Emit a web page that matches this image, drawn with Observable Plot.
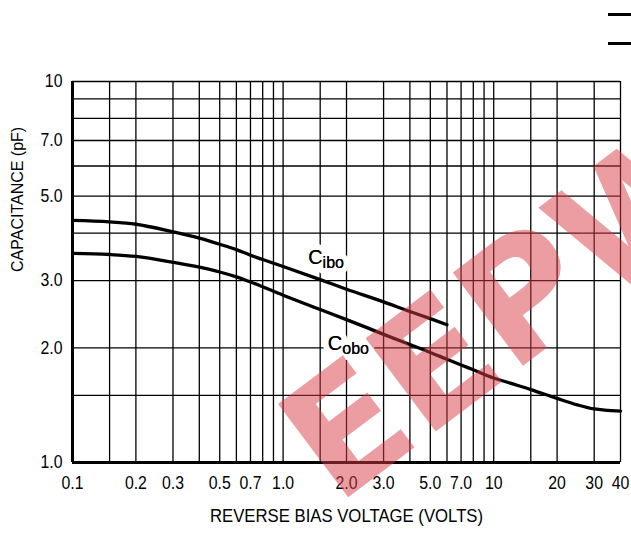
<!DOCTYPE html>
<html>
<head>
<meta charset="utf-8">
<script src="https://cdn.jsdelivr.net/npm/d3@7"></script>
<script src="https://cdn.jsdelivr.net/npm/@observablehq/plot@0.6"></script>
<style>
  body { margin: 0; background: #fff; }
  #chart { position: relative; width: 631px; height: 533px; }
  #chart svg { display: block; }
  .edge-bar { position: absolute; right: 0; width: 23px; height: 3px; background: #000; }
</style>
</head>
<body>
<div id="chart"></div>
<script>
// Input capacitance C_ibo vs reverse bias (volts, pF)
const voltsIbo = [0.1, 0.15, 0.2, 0.3, 0.4, 0.5, 0.6, 0.7, 0.8, 1.0, 1.5, 2, 3, 4, 5, 6];
const capIbo   = [4.32, 4.28, 4.22, 4.03, 3.88, 3.74, 3.62, 3.50, 3.41, 3.27, 3.02, 2.85, 2.64, 2.49, 2.385, 2.30];

// Output capacitance C_obo vs reverse bias (volts, pF)
const voltsObo = [0.1, 0.15, 0.2, 0.3, 0.4, 0.5, 0.6, 0.7, 1.0, 1.5, 2, 2.5, 3, 4, 5, 6, 7, 8, 10, 12, 15, 20, 25, 30, 35, 40];
const capObo   = [3.54, 3.515, 3.475, 3.354, 3.255, 3.162, 3.07, 2.977, 2.749, 2.52, 2.371, 2.259, 2.169, 2.039, 1.945, 1.866, 1.803, 1.751, 1.667, 1.615, 1.554, 1.473, 1.416, 1.382, 1.371, 1.364];

// Axis ticks and their printed labels
const xTicks = [0.1, 0.2, 0.3, 0.5, 0.7, 1, 2, 3, 5, 7, 10, 20, 30, 40];
const xTickLabels = ["0.1", "0.2", "0.3", "0.5", "0.7", "1.0", "2.0", "3.0", "5.0", "7.0", "10", "20", "30", "40"];
const yTicks = [1, 2, 3, 5, 7, 10];
const yTickLabels = ["1.0", "2.0", "3.0", "5.0", "7.0", "10"];

// Log-paper grid lines
const xGrid = [0.15, 0.2, 0.3, 0.4, 0.5, 0.6, 0.7, 0.8, 0.9, 1, 1.5, 2, 3, 4, 5, 6, 7, 8, 9, 10, 15, 20, 30, 40];
const yGrid = [1.5, 2, 3, 4, 5, 6, 7, 8, 9, 10];

// Curve labels: main letter plus subscript, placed at the letter's right edge
const curveLabels = [
  { name: "C", sub: "ibo", volts: 1.54, cap: 3.45 },
  { name: "C", sub: "obo", volts: 1.91, cap: 2.05 }
];

const ibo = voltsIbo.map((v, i) => ({ volts: v, cap: capIbo[i] }));
const obo = voltsObo.map((v, i) => ({ volts: v, cap: capObo[i] }));

const font = "'Liberation Sans', Arial, sans-serif";
const xTickText = xTicks.map((v, i) => ({ v, label: xTickLabels[i] }));
const yTickText = yTicks.map((v, i) => ({ v, label: yTickLabels[i] }));

const chart = Plot.plot({
  width: 631,
  height: 533,
  marginLeft: 72,
  marginRight: 11,
  marginTop: 81,
  marginBottom: 71,
  style: { fontFamily: font, fontSize: "16px", color: "#000", background: "#fff" },
  x: { type: "log", domain: [0.1, 40], axis: null },
  y: { type: "log", domain: [1, 10], axis: null },
  marks: [
    // grid
    Plot.ruleX(xGrid, { stroke: "#000", strokeWidth: 1.3 }),
    Plot.ruleY(yGrid, { stroke: "#000", strokeWidth: 1.3 }),
    // heavy left and bottom frame
    Plot.ruleX([0.1], { stroke: "#000", strokeWidth: 3 }),
    Plot.ruleY([1], { stroke: "#000", strokeWidth: 3 }),
    // tick labels
    Plot.text(xTickText, {
      x: "v", text: "label", frameAnchor: "bottom", dy: 26,
      fontSize: 18, fill: "#000", className: "narrow-text"
    }),
    Plot.text(yTickText, {
      y: "v", text: "label", frameAnchor: "left", dx: -10, textAnchor: "end",
      fontSize: 18, fill: "#000", className: "narrow-text"
    }),
    // axis titles
    Plot.text(["REVERSE BIAS VOLTAGE (VOLTS)"], {
      frameAnchor: "bottom", dy: 59, fontSize: 19, fill: "#000", className: "narrow-text"
    }),
    Plot.text(["CAPACITANCE (pF)"], {
      frameAnchor: "left", dx: -55, rotate: -90, fontSize: 16, fill: "#000"
    }),
    // curves
    Plot.line(ibo, { x: "volts", y: "cap", stroke: "#000", strokeWidth: 3.3, curve: "monotone-x" }),
    Plot.line(obo, { x: "volts", y: "cap", stroke: "#000", strokeWidth: 3.3, curve: "monotone-x" }),
    // curve labels on a white backing
    Plot.text(curveLabels, {
      x: "volts", y: "cap", text: "name", textAnchor: "end", fontSize: 20,
      fill: "#000", stroke: "#fff", strokeWidth: 12, strokeLinejoin: "round"
    }),
    Plot.text(curveLabels, {
      x: "volts", y: "cap", text: "sub", textAnchor: "start", dy: 5, fontSize: 16,
      fill: "#000", stroke: "#fff", strokeWidth: 12, strokeLinejoin: "round"
    }),
    Plot.text(curveLabels, {
      x: "volts", y: "cap", text: "name", textAnchor: "end", fontSize: 20, fill: "#000"
    }),
    Plot.text(curveLabels, {
      x: "volts", y: "cap", text: "sub", textAnchor: "start", dy: 5, fontSize: 16, fill: "#000"
    }),
    // site watermark
    Plot.text(["EEPW"], {
      x: [12], y: [2.5], rotate: -37, fontSize: 160, fontWeight: 900,
      fontFamily: "'DejaVu Sans', sans-serif",
      fill: "rgb(216,59,69)", fillOpacity: 0.5
    })
  ]
});

const host = document.getElementById("chart");
host.appendChild(chart);

// Squeeze glyphs horizontally to get the condensed look of the lettering
function condense(selector, factor) {
  host.querySelectorAll(selector).forEach(t => {
    const w = t.getComputedTextLength();
    t.setAttribute("textLength", (w * factor).toFixed(2));
    t.setAttribute("lengthAdjust", "spacingAndGlyphs");
  });
}
condense(".narrow-text text", 0.88);

for (const top of [13, 42]) {
  const bar = document.createElement("div");
  bar.className = "edge-bar";
  bar.style.top = top + "px";
  host.appendChild(bar);
}
</script>
</body>
</html>
